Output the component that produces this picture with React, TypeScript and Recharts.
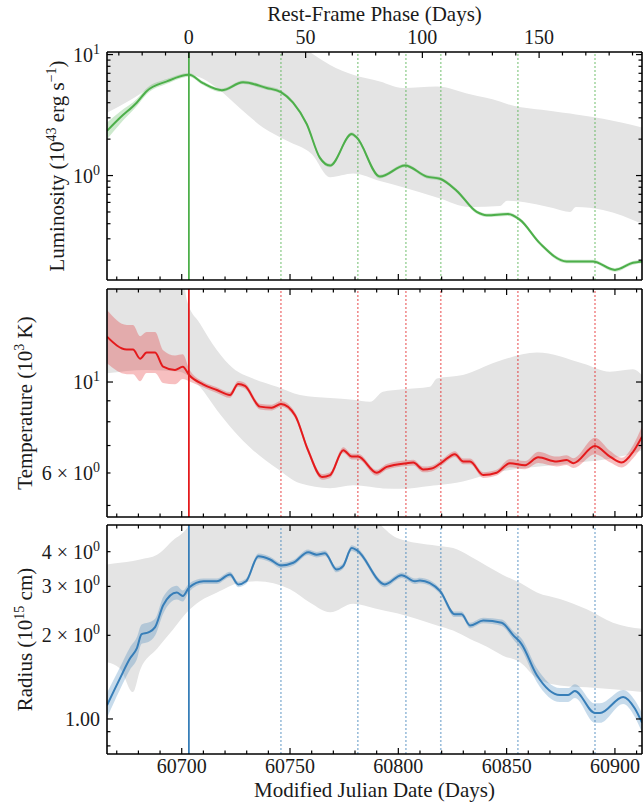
import React from "react";
import { Area, ComposedChart, Line, ReferenceLine, XAxis, YAxis } from "recharts";

const FONT = '"Liberation Serif", "Times New Roman", serif';
const INK = "#1a1a1a";
const GREEN = "#4daf4a";
const RED = "#e41a1c";
const BLUE = "#377eb8";
const BAND_GREY = "#e4e4e4";

const W = 644;
const PLOT_L = 107;
const PLOT_R = 642;

const MJD_DOMAIN: [number, number] = [60665.5, 60912.5];
const PEAK_MJD = 60703.3;
const TIME_DILATION = 1.078; // observed days per rest-frame day
const PHASE_DOMAIN: [number, number] = [
  (MJD_DOMAIN[0] - PEAK_MJD) / TIME_DILATION,
  (MJD_DOMAIN[1] - PEAK_MJD) / TIME_DILATION,
];

const mjdTicks = [60670, 60680, 60690, 60700, 60710, 60720, 60730, 60740, 60750, 60760, 60770, 60780, 60790, 60800, 60810, 60820, 60830, 60840, 60850, 60860, 60870, 60880, 60890, 60900, 60910];
const mjdMajors = [60700, 60750, 60800, 60850, 60900];
const phaseTicks = [-30, -20, -10, 0, 10, 20, 30, 40, 50, 60, 70, 80, 90, 100, 110, 120, 130, 140, 150, 160, 170, 180, 190];
const phaseMajors = [0, 50, 100, 150];

// epochs marked with dotted lines
const markerMjd = [60745.8, 60781.3, 60803.5, 60819.6, 60855.2, 60890.8];

// luminosity, 1e43 erg/s
const lumMjd = [60665.5, 60671.5, 60679.2, 60683.8, 60693.1, 60703.4, 60709.8, 60718.5, 60728.3, 60739.2, 60745.8, 60751.4, 60757.7, 60763.8, 60768.5, 60778.5, 60780.8, 60791.5, 60803.1, 60813.1, 60819.2, 60826.9, 60836.2, 60840.8, 60850.6, 60856.2, 60865.4, 60877.7, 60889.8, 60900.0, 60908.3, 60912.5];
const lumVal = [2.34, 3.0, 4.0, 4.98, 6.0, 6.8, 5.8, 5.07, 5.9, 5.3, 4.9, 4.0, 2.67, 1.4, 1.21, 2.2, 2.06, 0.98, 1.21, 0.98, 0.94, 0.75, 0.5, 0.47, 0.48, 0.43, 0.275, 0.195, 0.195, 0.166, 0.19, 0.195];
const lumErr = [0.07, 0.05, 0.03, 0.025, 0.02, 0.015, 0.015, 0.015, 0.015, 0.015, 0.015, 0.015, 0.015, 0.015, 0.015, 0.015, 0.015, 0.015, 0.015, 0.015, 0.015, 0.015, 0.015, 0.015, 0.015, 0.015, 0.015, 0.015, 0.015, 0.015, 0.015, 0.015];
const lumBandMjd = [60665.5, 60676.1, 60685.4, 60703.4, 60716.3, 60726.9, 60737.5, 60748.6, 60760.1, 60768.5, 60779.1, 60791.5, 60802.1, 60817.8, 60833.1, 60846.9, 60850.2, 60871.4, 60879.3, 60882.0, 60894.5, 60912.5];
const lumBandLo = [3.3, 4.2, 5.3, 6.8, 5.3, 3.6, 2.5, 1.94, 1.5, 0.97, 1.04, 0.9, 0.8, 0.66, 0.55, 0.56, 0.62, 0.54, 0.5, 0.55, 0.52, 0.4];
const lumBandHi = [15, 15, 15, 15, 15, 15, 15, 14, 10.2, 8.2, 6.8, 6.0, 5.3, 5.45, 4.7, 4.1, 3.9, 3.4, 3.25, 3.2, 2.95, 2.5];

// temperature, 1e3 K
const tempMjd = [60665.5, 60674.6, 60677.5, 60680.8, 60683.8, 60687.7, 60691.4, 60696.9, 60700.5, 60703.4, 60709.8, 60716.2, 60722.3, 60726.0, 60729.2, 60736.1, 60741.5, 60745.8, 60752.3, 60758.3, 60764.8, 60768.5, 60774.6, 60778.5, 60781.4, 60790.0, 60794.6, 60803.9, 60806.9, 60811.5, 60815.4, 60820.0, 60826.1, 60830.0, 60833.1, 60839.2, 60845.4, 60851.5, 60858.5, 60864.6, 60873.1, 60877.7, 60880.8, 60890.8, 60897.7, 60903.1, 60908.4, 60912.5];
const tempVal = [12.9, 12.0, 12.0, 11.4, 11.8, 11.8, 10.9, 10.7, 10.9, 10.4, 9.87, 9.56, 9.3, 9.89, 9.78, 8.71, 8.66, 8.84, 8.3, 6.82, 5.87, 5.93, 6.82, 6.58, 6.58, 6.01, 6.21, 6.34, 6.36, 6.12, 6.15, 6.36, 6.67, 6.4, 6.4, 5.93, 6.01, 6.34, 6.27, 6.55, 6.4, 6.45, 6.34, 6.98, 6.58, 6.36, 6.76, 7.36];
const tempErr = [0.065, 0.06, 0.06, 0.055, 0.05, 0.05, 0.04, 0.035, 0.03, 0.015, 0.007, 0.007, 0.007, 0.007, 0.007, 0.007, 0.007, 0.007, 0.007, 0.007, 0.007, 0.007, 0.007, 0.007, 0.007, 0.007, 0.007, 0.007, 0.007, 0.007, 0.007, 0.007, 0.007, 0.007, 0.007, 0.007, 0.007, 0.01, 0.01, 0.014, 0.012, 0.012, 0.012, 0.02, 0.014, 0.012, 0.016, 0.025];
const tempBandMjd = [60665.5, 60683.8, 60699.2, 60702.4, 60708.4, 60716.2, 60723.7, 60732.9, 60744.0, 60754.6, 60768.5, 60779.1, 60786.9, 60792.9, 60802.1, 60814.6, 60817.8, 60829.8, 60845.5, 60864.0, 60885.2, 60897.7, 60908.3, 60912.5];
const tempBandLo = [10.5, 10.7, 10.6, 10.4, 9.74, 8.55, 7.64, 6.82, 6.15, 5.66, 5.51, 5.6, 5.55, 5.5, 5.49, 5.58, 5.6, 5.72, 6.03, 6.21, 6.38, 6.5, 6.7, 6.82];
const tempBandHi = [20, 20, 20, 15.8, 13.9, 11.97, 10.8, 10.2, 9.74, 9.3, 9.14, 9.05, 8.95, 9.47, 9.6, 9.74, 10.2, 10.4, 11.2, 11.8, 11.1, 10.6, 10.75, 10.4];

// photospheric radius, 1e15 cm
const radMjd = [60665.5, 60671.5, 60676.1, 60679.2, 60681.5, 60684.6, 60687.7, 60691.5, 60697.7, 60700.5, 60703.4, 60710.0, 60716.2, 60722.3, 60726.1, 60729.7, 60735.4, 60740.8, 60745.8, 60751.5, 60758.4, 60762.3, 60766.1, 60771.5, 60774.5, 60778.5, 60780.8, 60793.8, 60801.5, 60807.7, 60810.0, 60819.2, 60826.1, 60829.2, 60833.1, 60839.2, 60847.7, 60853.1, 60856.9, 60863.9, 60874.6, 60878.4, 60881.5, 60890.8, 60893.1, 60903.8, 60909.2, 60912.5];
const radVal = [1.12, 1.4, 1.65, 1.79, 2.02, 2.05, 2.14, 2.57, 2.85, 2.77, 2.97, 3.13, 3.13, 3.31, 3.05, 3.13, 3.85, 3.75, 3.57, 3.65, 3.98, 3.9, 3.95, 3.45, 3.55, 4.12, 4.05, 3.05, 3.29, 3.13, 3.15, 2.89, 2.38, 2.38, 2.17, 2.26, 2.22, 2.0, 1.86, 1.44, 1.22, 1.22, 1.26, 1.05, 1.05, 1.2, 1.09, 0.97];
const radErr = [0.045, 0.04, 0.04, 0.04, 0.035, 0.035, 0.03, 0.03, 0.025, 0.02, 0.015, 0.01, 0.01, 0.01, 0.01, 0.01, 0.01, 0.01, 0.01, 0.01, 0.01, 0.01, 0.01, 0.01, 0.01, 0.01, 0.01, 0.01, 0.01, 0.01, 0.01, 0.01, 0.01, 0.01, 0.01, 0.01, 0.012, 0.015, 0.02, 0.025, 0.025, 0.025, 0.025, 0.035, 0.035, 0.025, 0.03, 0.035];
const radBandMjd = [60665.5, 60671.5, 60677.5, 60680.8, 60688.6, 60696.0, 60702.4, 60708.4, 60716.3, 60726.9, 60734.8, 60750.0, 60759.3, 60768.5, 60779.1, 60789.3, 60799.4, 60817.9, 60825.3, 60833.1, 60840.9, 60848.3, 60856.2, 60864.0, 60874.6, 60887.0, 60899.1, 60912.5];
const radBandLo = [1.6, 1.52, 1.25, 1.5, 1.79, 2.1, 2.42, 2.65, 2.85, 3.09, 3.13, 2.93, 2.62, 2.42, 2.6, 2.5, 2.4, 2.17, 2.08, 1.94, 1.82, 1.69, 1.6, 1.4, 1.32, 1.3, 1.28, 1.25];
const radBandHi = [3.6, 3.65, 3.7, 3.75, 3.9, 4.4, 4.86, 6, 6, 6, 6, 6, 6, 6, 6, 5.2, 4.48, 4.2, 4.12, 3.85, 3.55, 3.3, 3.09, 2.85, 2.7, 2.48, 2.22, 2.11];

const lumTicks = [0.2, 0.3, 0.4, 0.5, 0.6, 0.7, 0.8, 0.9, 1, 2, 3, 4, 5, 6, 7, 8, 9, 10];
const tempTicks = [5, 6, 7, 8, 9, 10];
const radTicks = [0.8, 0.9, 1, 2, 3, 4];

const lineRows = (mjd: number[], val: number[], err: number[]) =>
  mjd.map((m, i) => ({ mjd: m, v: val[i], err: [val[i] / 10 ** err[i], val[i] * 10 ** err[i]] }));
const bandRows = (mjd: number[], lo: number[], hi: number[]) =>
  mjd.map((m, i) => ({ mjd: m, range: [lo[i], hi[i]] }));
// same luminosity points on the rest-frame phase axis (keeps the top axis scaled)
const phaseRows = lumMjd.map((m, i) => ({ phase: (m - PEAK_MJD) / TIME_DILATION, v: lumVal[i] }));

// y tick label: mantissa × 10^exp, or a plain string
type TickLabel = { pre?: string; exp?: string; plain?: string };

const lumLabels: Record<number, TickLabel> = { 10: { pre: "10", exp: "1" }, 1: { pre: "10", exp: "0" } };
const tempLabels: Record<number, TickLabel> = { 10: { pre: "10", exp: "1" }, 6: { pre: "6 \u00d7 10", exp: "0" } };
const radLabels: Record<number, TickLabel> = {
  4: { pre: "4 \u00d7 10", exp: "0" },
  3: { pre: "3 \u00d7 10", exp: "0" },
  2: { pre: "2 \u00d7 10", exp: "0" },
  1: { plain: "1.00" },
};

const TICK_FS = 20;
const TITLE_FS = 21;
const SUP_FS = 14;

// left labels plus inward ticks on both the left and right frame edges
const makeYTick = (labels: Record<number, TickLabel>, majors: number[]) => (props: any) => {
  const { y, payload } = props;
  const v = payload.value as number;
  const len = majors.includes(v) ? 6 : 3.5;
  const lab = labels[v];
  return (
    <g>
      <line x1={PLOT_L} x2={PLOT_L + len} y1={y} y2={y} stroke="#000" strokeWidth={1.2} />
      <line x1={PLOT_R} x2={PLOT_R - len} y1={y} y2={y} stroke="#000" strokeWidth={1.2} />
      {lab && (
        <text x={100} y={y + 7} textAnchor="end" fontSize={TICK_FS} fontFamily={FONT} fill={INK}>
          {lab.plain ?? lab.pre}
          {lab.exp && (
            <tspan dy={-8} fontSize={SUP_FS}>
              {lab.exp}
            </tspan>
          )}
        </text>
      )}
    </g>
  );
};

// inward x ticks on one or two horizontal edges, with optional labels
const makeXTick =
  (edges: { y: number; dir: 1 | -1 }[], majors: number[], labelY?: number) =>
  (props: any) => {
    const { x, payload } = props;
    const v = payload.value as number;
    const major = majors.includes(v);
    const len = major ? 6 : 3.5;
    return (
      <g>
        {edges.map((e, i) => (
          <line key={i} x1={x} x2={x} y1={e.y} y2={e.y + e.dir * len} stroke="#000" strokeWidth={1.2} />
        ))}
        {major && labelY !== undefined && (
          <text x={x} y={labelY} textAnchor="middle" fontSize={TICK_FS} fontFamily={FONT} fill={INK}>
            {String(v)}
          </text>
        )}
      </g>
    );
  };

type PanelProps = {
  top: number;
  height: number;
  topAxisH: number;
  bottomAxisH: number;
  color: string;
  lineData: { mjd: number; v: number; err: number[] }[];
  bandData: { mjd: number; range: number[] }[];
  yDomain: [number, number];
  yTicks: number[];
  yMajors: number[];
  yLabels: Record<number, TickLabel>;
  title: React.ReactNode;
  titleX: number;
  phaseAxis?: boolean;
  mjdLabels?: boolean;
};

function Panel(p: PanelProps) {
  const plotTop = p.topAxisH;
  const plotBottom = p.height - p.bottomAxisH;
  const midY = (plotTop + plotBottom) / 2;
  const frame = { stroke: "#000", strokeWidth: 1.6 };
  const mjdEdges: { y: number; dir: 1 | -1 }[] = p.phaseAxis
    ? [{ y: plotBottom, dir: -1 }]
    : [
        { y: plotBottom, dir: -1 },
        { y: plotTop, dir: 1 },
      ];
  return (
    <div style={{ position: "absolute", left: 0, top: p.top, width: W, height: p.height }}>
      <ComposedChart width={W} height={p.height} margin={{ top: 0, right: 0, bottom: 0, left: 0 }}>
        <XAxis
          xAxisId="mjd"
          dataKey="mjd"
          type="number"
          domain={MJD_DOMAIN}
          allowDataOverflow
          ticks={mjdTicks}
          interval={0}
          height={p.bottomAxisH}
          axisLine={frame}
          tickLine={false}
          tick={makeXTick(mjdEdges, mjdMajors, p.mjdLabels ? plotBottom + 19 : undefined)}
          label={
            p.mjdLabels
              ? () => (
                  <text x={(PLOT_L + PLOT_R) / 2} y={plotBottom + 43} textAnchor="middle" fontSize={TITLE_FS} fontFamily={FONT} fill={INK}>
                    Modified Julian Date (Days)
                  </text>
                )
              : undefined
          }
        />
        <XAxis
          xAxisId="top"
          orientation="top"
          dataKey="phase"
          type="number"
          domain={PHASE_DOMAIN}
          allowDataOverflow
          ticks={p.phaseAxis ? phaseTicks : []}
          interval={0}
          height={p.topAxisH}
          axisLine={frame}
          tickLine={false}
          tick={p.phaseAxis ? makeXTick([{ y: plotTop, dir: 1 }], phaseMajors, 44) : false}
          label={
            p.phaseAxis
              ? () => (
                  <text x={(PLOT_L + PLOT_R) / 2} y={21} textAnchor="middle" fontSize={TITLE_FS} fontFamily={FONT} fill={INK}>
                    Rest-Frame Phase (Days)
                  </text>
                )
              : undefined
          }
        />
        <YAxis
          yAxisId="y"
          type="number"
          scale="log"
          domain={p.yDomain}
          allowDataOverflow
          ticks={p.yTicks}
          interval={0}
          width={PLOT_L}
          axisLine={frame}
          tickLine={false}
          tick={makeYTick(p.yLabels, p.yMajors)}
          label={() => (
            <text
              transform={`translate(${p.titleX} ${midY}) rotate(-90)`}
              textAnchor="middle"
              fontSize={TITLE_FS}
              fontFamily={FONT}
              fill={INK}
            >
              {p.title}
            </text>
          )}
        />
        <YAxis
          yAxisId="yr"
          orientation="right"
          type="number"
          scale="log"
          domain={p.yDomain}
          allowDataOverflow
          width={W - PLOT_R}
          axisLine={frame}
          tickLine={false}
          tick={false}
        />
        <Area
          xAxisId="mjd"
          yAxisId="y"
          data={p.bandData}
          dataKey="range"
          type="monotoneX"
          stroke="none"
          fill={BAND_GREY}
          fillOpacity={1}
          isAnimationActive={false}
        />
        <Area
          xAxisId="mjd"
          yAxisId="y"
          data={p.lineData}
          dataKey="err"
          type="monotoneX"
          stroke="none"
          fill={p.color}
          fillOpacity={0.28}
          isAnimationActive={false}
        />
        {markerMjd.map((m) => (
          <ReferenceLine
            key={m}
            xAxisId="mjd"
            yAxisId="y"
            x={m}
            stroke={p.color}
            strokeOpacity={0.5}
            strokeWidth={1.6}
            strokeDasharray="2 2"
          />
        ))}
        <ReferenceLine xAxisId="mjd" yAxisId="y" x={PEAK_MJD} stroke={p.color} strokeWidth={1.8} />
        <Line
          xAxisId="mjd"
          yAxisId="y"
          data={p.lineData}
          dataKey="v"
          type="monotoneX"
          stroke={p.color}
          strokeWidth={2}
          dot={false}
          isAnimationActive={false}
        />
        {/* invisible twin on the phase axis so that axis gets a scale */}
        <Line
          xAxisId="top"
          yAxisId="yr"
          data={phaseRows}
          dataKey="v"
          stroke="none"
          dot={false}
          activeDot={false}
          isAnimationActive={false}
        />
      </ComposedChart>
    </div>
  );
}

export default function App() {
  return (
    <div style={{ position: "absolute", left: 0, top: 0, width: W, height: 806, background: "#fff" }}>
      <Panel
        top={0}
        height={285}
        topAxisH={52}
        bottomAxisH={5}
        color={GREEN}
        lineData={lineRows(lumMjd, lumVal, lumErr)}
        bandData={bandRows(lumBandMjd, lumBandLo, lumBandHi)}
        yDomain={[0.137, 10.5]}
        yTicks={lumTicks}
        yMajors={[1, 10]}
        yLabels={lumLabels}
        titleX={64}
        title={
          <>
            Luminosity (10
            <tspan dy={-8} fontSize={SUP_FS}>43</tspan>
            <tspan dy={8}> erg s</tspan>
            <tspan dy={-8} fontSize={SUP_FS}>{"\u22121"}</tspan>
            <tspan dy={8}>)</tspan>
          </>
        }
        phaseAxis
      />
      <Panel
        top={284}
        height={237}
        topAxisH={5}
        bottomAxisH={4}
        color={RED}
        lineData={lineRows(tempMjd, tempVal, tempErr)}
        bandData={bandRows(tempBandMjd, tempBandLo, tempBandHi)}
        yDomain={[4.686, 16.86]}
        yTicks={tempTicks}
        yMajors={[10]}
        yLabels={tempLabels}
        titleX={32}
        title={
          <>
            Temperature (10
            <tspan dy={-8} fontSize={SUP_FS}>3</tspan>
            <tspan dy={8}> K)</tspan>
          </>
        }
      />
      <Panel
        top={520}
        height={286}
        topAxisH={5}
        bottomAxisH={52}
        color={BLUE}
        lineData={lineRows(radMjd, radVal, radErr)}
        bandData={bandRows(radBandMjd, radBandLo, radBandHi)}
        yDomain={[0.748, 4.99]}
        yTicks={radTicks}
        yMajors={[1]}
        yLabels={radLabels}
        titleX={32}
        title={
          <>
            Radius (10
            <tspan dy={-8} fontSize={SUP_FS}>15</tspan>
            <tspan dy={8}> cm)</tspan>
          </>
        }
        mjdLabels
      />
    </div>
  );
}
